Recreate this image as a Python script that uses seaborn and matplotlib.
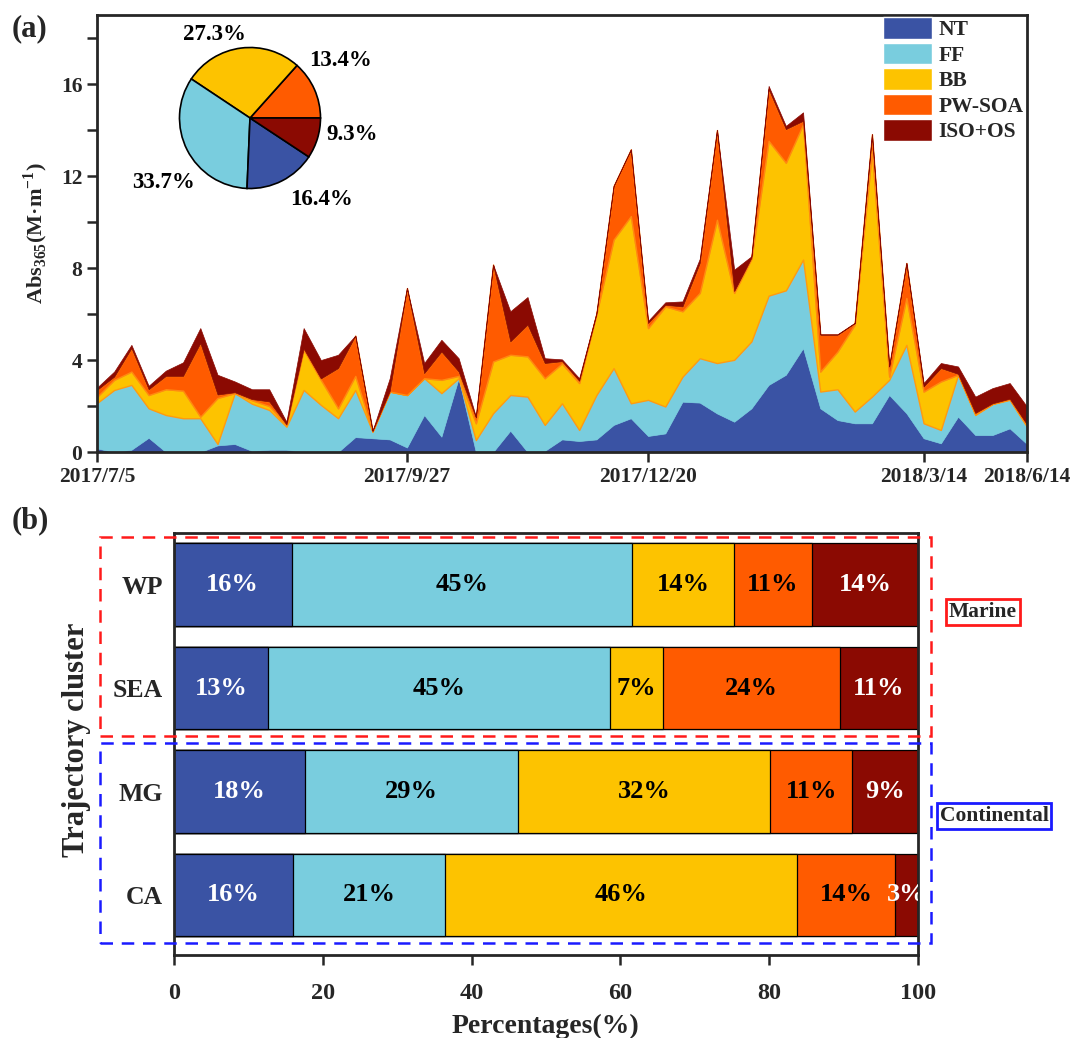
import numpy as np
import pandas as pd
import seaborn as sns
import matplotlib.pyplot as plt
from matplotlib.patches import Patch, Rectangle

sns.set_theme(style="ticks")
plt.rcParams['font.family'] = ['Liberation Serif', 'DejaVu Serif']
plt.rcParams['font.weight'] = 'bold'
plt.rcParams['axes.labelweight'] = 'bold'
plt.rcParams['mathtext.fontset'] = 'custom'
plt.rcParams['mathtext.rm'] = 'Liberation Serif:bold'
plt.rcParams['mathtext.bf'] = 'Liberation Serif:bold'

# ---- data: source contributions to Abs365 per sample ----
sources = ['NT', 'FF', 'BB', 'PW-SOA', 'ISO+OS']
colors = ['#3A53A4', '#79CDDE', '#FDC300', '#FF5B00', '#8B0A02']

nt = [0.16, 0.0, 0.1, 0.62, 0.0, 0.0, 0.0, 0.29, 0.35, 0.05, 0.1, 0.1, 0.0, 0.0, 0.0,
      0.65, 0.6, 0.55, 0.2, 1.61, 0.67, 3.21, 0.0, 0.0, 0.93, 0.0, 0.05, 0.55, 0.48,
      0.55, 1.18, 1.47, 0.7, 0.81, 2.19, 2.15, 1.68, 1.32, 1.9, 2.92, 3.36, 4.52, 1.9,
      1.39, 1.25, 1.25, 2.48, 1.69, 0.6, 0.38, 1.54, 0.74, 0.74, 1.03, 0.35]
ff = [1.97, 2.7, 2.82, 1.28, 1.61, 1.47, 1.47, 0.06, 2.21, 2.05, 1.73, 1.0, 2.7, 2.05,
      1.47, 2.05, 0.29, 2.08, 2.28, 1.6, 1.89, 0.0, 0.52, 1.69, 1.55, 2.41, 1.13, 1.57,
      0.48, 1.93, 2.47, 0.65, 1.57, 1.17, 1.09, 1.93, 2.19, 2.69, 2.91, 3.88, 3.67, 3.85,
      0.73, 1.34, 0.51, 1.16, 0.66, 2.97, 0.65, 0.58, 1.82, 0.87, 1.35, 1.24, 0.75]
bb = [0.27, 0.44, 0.58, 0.58, 1.12, 1.2, 0.07, 2.0, 0.0, 0.15, 0.17, 0.07, 1.75, 1.09,
      0.43, 0.61, 0.01, 0.0, 0.0, 0.0, 0.58, 0.1, 0.73, 2.25, 1.75, 1.75, 2.03, 1.73,
      2.04, 3.52, 5.59, 8.14, 3.12, 4.35, 2.84, 2.84, 6.23, 2.91, 3.59, 6.73, 5.55, 5.88,
      0.87, 1.64, 3.78, 10.69, 0.14, 2.04, 1.38, 2.11, 0.0, 0.04, 0.01, 0.03, 0.05]
pw = [0.3, 0.14, 1.02, 0.25, 0.58, 0.64, 3.2, 0.15, 0.04, 0.05, 0.2, 0.03, 0.05, 0.06,
      1.75, 1.75, 0.02, 0.02, 4.65, 0.22, 1.23, 0.19, 0.25, 4.21, 0.58, 1.38, 0.66, 0.1,
      0.1, 0.0, 2.33, 2.9, 0.22, 0.07, 0.21, 1.3, 3.9, 0.08, 0.05, 2.25, 1.46, 0.15, 1.6,
      0.73, 0.06, 0.72, 0.44, 1.52, 0.22, 0.58, 0.04, 0.05, 0.02, 0.02, 0.05]
iso = [0.1, 0.22, 0.14, 0.15, 0.23, 0.59, 0.65, 0.86, 0.47, 0.43, 0.53, 0.12, 0.89, 0.8,
       0.58, 0.0, 0.0, 0.56, 0.0, 0.44, 0.51, 0.58, 0.04, 0.0, 1.31, 1.2, 0.21, 0.08,
       0.11, 0.05, 0.0, 0.0, 0.09, 0.11, 0.22, 0.18, 0.0, 0.93, 0.06, 0.14, 0.14, 0.37,
       0.02, 0.02, 0.02, 0.0, 0.0, 0.0, 0.15, 0.22, 0.32, 0.71, 0.66, 0.68, 0.78]
sample = np.arange(len(nt))

tick_idx = [0, 18, 32, 48, 54]
tick_dates = ['2017/7/5', '2017/9/27', '2017/12/20', '2018/3/14', '2018/6/14']

# pie: average contribution, counter-clockwise from 3 o'clock
pie_names = ['PW-SOA', 'BB', 'FF', 'NT', 'ISO+OS']
pie_vals = [13.4, 27.3, 33.7, 16.4, 9.3]

# ---- data: contribution by trajectory cluster ----
clusters = ['WP', 'SEA', 'MG', 'CA']
cl_nt = [15.8, 12.6, 17.6, 16.0]
cl_ff = [45.8, 46.0, 28.6, 20.4]
cl_bb = [13.7, 7.1, 34.0, 47.4]
cl_pw = [10.5, 23.9, 11.0, 13.2]
cl_iso = [14.2, 10.4, 8.8, 3.0]
lab_nt = ['16%', '13%', '18%', '16%']
lab_ff = ['45%', '45%', '29%', '21%']
lab_bb = ['14%', '7%', '32%', '46%']
lab_pw = ['11%', '24%', '11%', '14%']
lab_iso = ['14%', '11%', '9%', '3%']

fig = plt.figure(figsize=(10.75, 10.38), dpi=100)

# ================= (a) stacked area =================
ax1 = fig.add_axes([0.0902, 0.5645, 0.8651, 0.4210])
polys = ax1.stackplot(sample, nt, ff, bb, pw, iso, colors=colors)
for p, c in zip(polys, colors):
    p.set_edgecolor(c)
    p.set_linewidth(0.5)
polys[2].set_edgecolor('#FF9A10')
polys[2].set_linewidth(1.0)
polys[3].set_edgecolor('#FF8A10')
polys[3].set_linewidth(1.0)

ax1.set_xlim(0, 54)
ax1.set_ylim(0, 19)
ax1.set_xticks(tick_idx, tick_dates)
ax1.set_yticks([0, 4, 8, 12, 16])
ax1.set_yticks(np.arange(2, 19, 4), minor=True)
ax1.tick_params(axis='both', which='major', labelsize=15.5, direction='out', length=7, width=1.8)
ax1.tick_params(axis='y', which='minor', direction='out', length=7, width=1.8)
ax1.set_ylabel('Abs$_{\\mathbf{365}}$(M·m$^{\\mathbf{-1}}$)', fontsize=16)
ax1.yaxis.set_label_coords(-0.05, 0.5)
for s in ax1.spines.values():
    s.set_linewidth(2)
    s.set_visible(True)

handles = [Patch(facecolor=c, edgecolor='white', linewidth=1) for c in colors]
ax1.legend(handles, sources, loc='upper left', bbox_to_anchor=(0.845, 0.995),
           frameon=False, fontsize=15.5, handlelength=2.3, handleheight=1.15,
           labelspacing=0.12, handletextpad=0.3, borderpad=0, borderaxespad=0)

# pie inset
pw_px, ph_px = 141 * 1.25 / 1075, 141 * 1.25 / 1038
axp = fig.add_axes([250 / 1075 - pw_px / 2, 1 - 118 / 1038 - ph_px / 2, pw_px, ph_px])
pie_cols = [colors[sources.index(n)] for n in pie_names]
wedges, _, pcts = axp.pie(pie_vals, colors=pie_cols, startangle=0, counterclock=True,
                          autopct='%.1f%%', pctdistance=1.45,
                          wedgeprops=dict(edgecolor='black', linewidth=1.2),
                          textprops=dict(fontsize=16.5, fontweight='bold', color='black'))
# nudge the percentage labels to where the original figure puts them
label_pos = [(1.28, 0.82), (-0.50, 1.19), (-1.22, -0.91), (1.01, -1.15), (1.45, -0.23)]
for t, xy in zip(pcts, label_pos):
    t.set_position(xy)
axp.set_aspect('equal')

fig.text(0.011, 0.986, '(a)', fontsize=22, fontweight='bold', va='top')

# ================= (b) stacked bars by cluster =================
ax2 = fig.add_axes([0.1619, 0.0800, 0.6918, 0.4066])
layers = [cl_nt, cl_ff, cl_bb, cl_pw, cl_iso]
cum = np.cumsum(np.array(layers), axis=0)
df = pd.DataFrame({'cluster': clusters})
for k in range(len(layers) - 1, -1, -1):
    df['v'] = cum[k]
    sns.barplot(data=df, x='v', y='cluster', orient='h', color=colors[k],
                saturation=1, width=0.8, edgecolor='black', linewidth=0.9,
                errorbar=None, ax=ax2)

labs = [lab_nt, lab_ff, lab_bb, lab_pw, lab_iso]
txtcol = ['white', 'black', 'black', 'black', 'white']
for k in range(len(layers)):
    for j in range(len(clusters)):
        left = cum[k][j] - layers[k][j]
        ax2.text(left + layers[k][j] / 2, j, labs[k][j], ha='center', va='center',
                 fontsize=19, fontweight='bold', color=txtcol[k], clip_on=True)

ax2.set_xlim(0, 100)
ax2.set_ylim(3.58, -0.5)
ax2.set_xticks([0, 20, 40, 60, 80, 100])
ax2.tick_params(axis='x', labelsize=17.5, direction='out', length=7, width=1.8, pad=13)
ax2.tick_params(axis='y', labelsize=18.5, length=0, pad=8)
ax2.set_xlabel('Percentages(%)', fontsize=20)
ax2.xaxis.set_label_coords(0.5, -0.14)
ax2.set_ylabel('Trajectory cluster', fontsize=22)
ax2.yaxis.set_label_coords(-0.112, 0.51)
for s in ax2.spines.values():
    s.set_linewidth(2)
    s.set_visible(True)

# dashed group boxes
fig.add_artist(Rectangle((0.093, 0.2909), 0.773, 0.1917, transform=fig.transFigure,
                         fill=False, edgecolor='#FF1A1A', linewidth=1.8,
                         linestyle=(0, (5, 3.5)), zorder=5))
fig.add_artist(Rectangle((0.093, 0.0915), 0.773, 0.1927, transform=fig.transFigure,
                         fill=False, edgecolor='#1A1AFF', linewidth=1.8,
                         linestyle=(0, (5, 3.5)), zorder=5))
fig.text(0.9144, 0.4104, 'Marine', fontsize=15.5, fontweight='bold', ha='center', va='center',
         bbox=dict(boxstyle='square,pad=0.12', facecolor='white', edgecolor='#FF1A1A', linewidth=2))
fig.text(0.9247, 0.2139, 'Continental', fontsize=15.5, fontweight='bold', ha='center', va='center',
         bbox=dict(boxstyle='square,pad=0.12', facecolor='white', edgecolor='#1A1AFF', linewidth=2))

fig.text(0.011, 0.512, '(b)', fontsize=22, fontweight='bold', va='top')

fig.savefig('out.png', dpi=100)
